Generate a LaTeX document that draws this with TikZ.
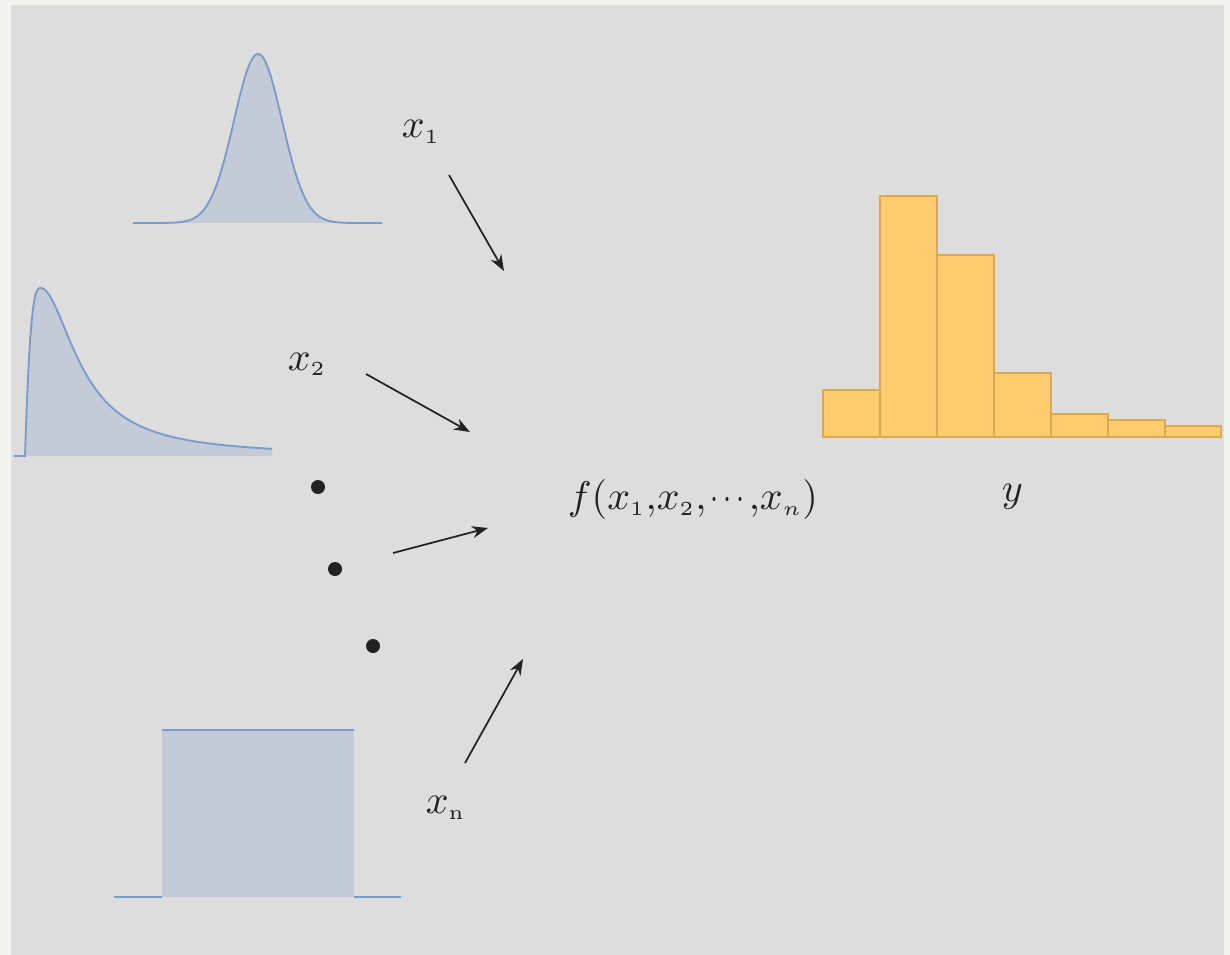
\documentclass[tikz,border=0pt]{standalone}
\usetikzlibrary{arrows.meta}
\definecolor{outer}{HTML}{F3F4EF}
\definecolor{panel}{HTML}{DDDDDD}
\definecolor{curve}{HTML}{7C9BC9}
\definecolor{area}{HTML}{C3CAD8}
\definecolor{barfill}{HTML}{FECB6E}
\definecolor{barline}{HTML}{D9A953}
\definecolor{ink}{HTML}{222222}
\newcommand{\sub}[1]{_{\scriptscriptstyle #1}}
\begin{document}
\begin{tikzpicture}[x=0.75pt,y=-0.75pt,
  lbl/.style={inner sep=0pt, anchor=base west, text=ink, scale=3},
  arr/.style={draw=ink, line width=1.3pt, -{Stealth[length=12pt,width=9pt]}},
  dist/.style={draw=curve, line width=1.4pt},
  areafill/.style={fill=area},
  dotnode/.style={circle, fill=ink, inner sep=0pt, minimum size=10.5pt},
  hbar/.style={fill=barfill, draw=barline, line width=0.8pt}]
\useasboundingbox (0,0) rectangle (1230,955);
\fill[outer] (0,0) rectangle (1230,955);
\fill[panel] (11,5) rectangle (1224,955);

% Gaussian
\fill[areafill] (133,223) -- plot[domain=133:382,samples=160] (\x,{223-169*exp(-((\x-258)^2)/(2*24*24))}) -- (382,223) -- cycle;
\draw[dist] plot[domain=133:382,samples=160] (\x,{223-169*exp(-((\x-258)^2)/(2*24*24))});

% Skewed distribution
\fill[areafill] (25,456) -- plot[domain=0:16,samples=40] ({25+\x},{456-168*(1-(1-\x/16)^3)}) -- plot[domain=0.2:231,samples=160] ({41+\x},{456-168/(1+(\x/43.8)^1.87)}) -- (272,456) -- cycle;
\draw[dist] (14,456) -- (25,456) -- plot[domain=0:16,samples=40] ({25+\x},{456-168*(1-(1-\x/16)^3)}) -- plot[domain=0.2:231,samples=160] ({41+\x},{456-168/(1+(\x/43.8)^1.87)});

% Uniform distribution
\fill[areafill] (162,730) rectangle (354,897);
\draw[dist] (114,897) -- (162,897);
\draw[dist] (162,730) -- (354,730);
\draw[dist] (354,897) -- (401,897);

% Histogram
\foreach \a/\b/\t in {823/880/390, 880/937/196, 937/994/255, 994/1051/373, 1051/1108/414, 1108/1165/420, 1165/1221/426}
  \draw[hbar] (\a,437) rectangle (\b,\t);

% Labels
\node[lbl] (x1) at (401,138) {$x\sub{1}$};
\node[lbl] (x2) at (287,370) {$x\sub{2}$};
\node[lbl] (xn) at (425,813) {$x\sub{\mathrm{n}}$};
\node[lbl] (f) at (567,509) {$f(x\sub{1}{,}x\sub{2}{,}\mkern2mu\scalebox{0.72}[1]{$\cdots$}\mkern2mu{,}x\sub{n})$};
\node[lbl] (y) at (1001,501) {$y$};

% Dots
\node[dotnode] (d1) at (318,487) {};
\node[dotnode] (d2) at (335,569) {};
\node[dotnode] (d3) at (373,646) {};

% Arrows
\coordinate (a1s) at (449,175); \coordinate (a1e) at (504,271);
\coordinate (a2s) at (366,374); \coordinate (a2e) at (470,432);
\coordinate (a3s) at (393,553); \coordinate (a3e) at (488,528);
\coordinate (a4s) at (465,763); \coordinate (a4e) at (523,659);
\draw[arr] (a1s) -- (a1e);
\draw[arr] (a2s) -- (a2e);
\draw[arr] (a3s) -- (a3e);
\draw[arr] (a4s) -- (a4e);
\end{tikzpicture}
\end{document}
